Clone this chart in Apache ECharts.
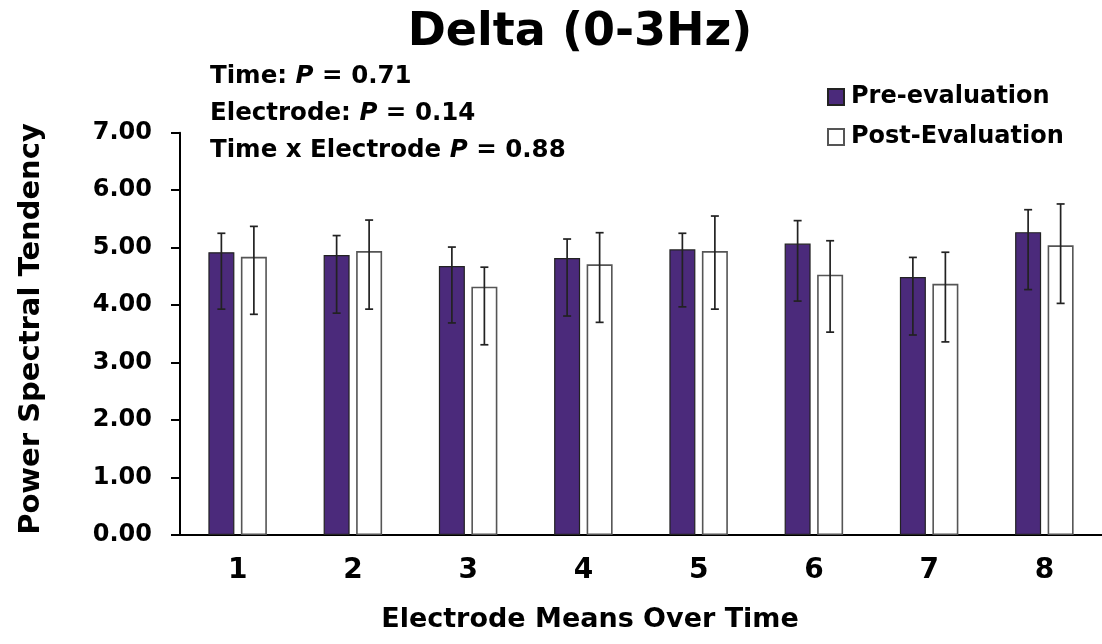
<!DOCTYPE html>
<html>
<head>
<meta charset="utf-8">
<script src="https://cdn.jsdelivr.net/npm/echarts@6/dist/echarts.min.js"></script>
<style>html,body{margin:0;padding:0;background:#fff;}#c{width:1102px;height:644px;}</style>
</head>
<body>
<div id="c"></div>
<script>
var categories = ['1', '2', '3', '4', '5', '6', '7', '8'];
var yTicks = [0, 1, 2, 3, 4, 5, 6, 7];
var preMean  = [4.92, 4.87, 4.68, 4.82, 4.97, 5.07, 4.49, 5.27];
var preHigh  = [5.25, 5.21, 5.01, 5.15, 5.25, 5.47, 4.83, 5.66];
var preLow   = [3.93, 3.86, 3.69, 3.81, 3.97, 4.07, 3.48, 4.27];
var postMean = [4.84, 4.94, 4.32, 4.71, 4.94, 4.53, 4.37, 5.04];
var postHigh = [5.37, 5.48, 4.66, 5.26, 5.55, 5.12, 4.92, 5.76];
var postLow  = [3.84, 3.93, 3.31, 3.70, 3.93, 3.53, 3.36, 4.03];
var stats = [['Time: ', '0.71'], ['Electrode: ', '0.14'], ['Time x Electrode ', '0.88']];

var FONT = 'DejaVu Sans';
var BAR_W = 26, GAP = 6.5;

function errSeries(name, low, high, side) {
  return {
    type: 'custom', name: name + ' err', silent: true, z: 5,
    data: categories.map(function (c, i) { return [i, low[i], high[i]]; }),
    renderItem: function (params, api) {
      var i = api.value(0);
      var lo = api.coord([i, api.value(1)]);
      var hi = api.coord([i, api.value(2)]);
      var x = lo[0] + side * (BAR_W + GAP) / 2;
      var cap = 4;
      var st = { stroke: '#222', lineWidth: 1.7 };
      return { type: 'group', children: [
        { type: 'line', shape: { x1: x, y1: lo[1], x2: x, y2: hi[1] }, style: st },
        { type: 'line', shape: { x1: x - cap, y1: lo[1], x2: x + cap, y2: lo[1] }, style: st },
        { type: 'line', shape: { x1: x - cap, y1: hi[1], x2: x + cap, y2: hi[1] }, style: st }
      ]};
    }
  };
}

var graphics = [
  { type: 'text', x: 580, y: 33, style: { text: 'Delta (0-3Hz)', font: 'bold 46px "' + FONT + '"', fill: '#000', textAlign: 'center', textVerticalAlign: 'middle' } },
  { type: 'text', x: 590, y: 620, style: { text: 'Electrode Means Over Time', font: 'bold 27px "' + FONT + '"', fill: '#000', textAlign: 'center', textVerticalAlign: 'middle' } },
  { type: 'text', x: 31, y: 329, rotation: Math.PI / 2, style: { text: 'Power Spectral Tendency', font: 'bold 29px "' + FONT + '"', fill: '#000', textAlign: 'center', textVerticalAlign: 'middle' } }
];
stats.forEach(function (s, k) {
  graphics.push({ type: 'text', x: 210, y: 77 + k * 37, style: {
    text: '{n|' + s[0] + '}{i|P}{n| = ' + s[1] + '}',
    textVerticalAlign: 'middle',
    rich: {
      n: { fontFamily: FONT, fontWeight: 'bold', fontSize: 24.5, fill: '#000', color: '#000' },
      i: { fontFamily: FONT, fontWeight: 'bold', fontStyle: 'italic', fontSize: 24.5, fill: '#000', color: '#000' }
    }
  }});
});

var chart = echarts.init(document.getElementById('c'), null, { renderer: 'canvas' });
chart.setOption({
  backgroundColor: '#fff',
  animation: false,
  textStyle: { fontFamily: FONT },
  grid: { left: 180, right: 0, top: 132.7, bottom: 109, containLabel: false },
  legend: {
    data: [{ name: 'Pre-evaluation', icon: 'rect' }, { name: 'Post-Evaluation', icon: 'rect' }],
    orient: 'vertical', left: 822, top: 80,
    itemWidth: 16, itemHeight: 16, itemGap: 16,
    textStyle: { fontFamily: FONT, fontWeight: 'bold', fontSize: 24, color: '#000', padding: [0, 0, 0, 2] }
  },
  xAxis: {
    type: 'category', data: categories,
    axisLine: { lineStyle: { color: '#000', width: 2 } },
    axisTick: { show: false },
    axisLabel: { margin: 22, fontFamily: FONT, fontWeight: 'bold', fontSize: 28, color: '#000' }
  },
  yAxis: {
    type: 'value', min: 0, max: 7, interval: 1,
    axisLine: { show: true, lineStyle: { color: '#000', width: 2 } },
    axisTick: { show: true, length: 9, lineStyle: { color: '#000', width: 2 } },
    splitLine: { show: false },
    axisLabel: { margin: 28, fontFamily: FONT, fontWeight: 'bold', fontSize: 24, color: '#000',
      formatter: function (v) { return v.toFixed(2); } }
  },
  graphic: graphics,
  series: [
    { name: 'Pre-evaluation', type: 'bar', data: preMean, barWidth: BAR_W, barGap: (GAP / BAR_W * 100) + '%',
      itemStyle: { color: '#4b2a7b', borderColor: '#222', borderWidth: 1.2 } },
    { name: 'Post-Evaluation', type: 'bar', data: postMean, barWidth: BAR_W,
      itemStyle: { color: '#fff', borderColor: '#555', borderWidth: 1.6 } },
    errSeries('pre', preLow, preHigh, -1),
    errSeries('post', postLow, postHigh, 1)
  ]
});
</script>
</body>
</html>
